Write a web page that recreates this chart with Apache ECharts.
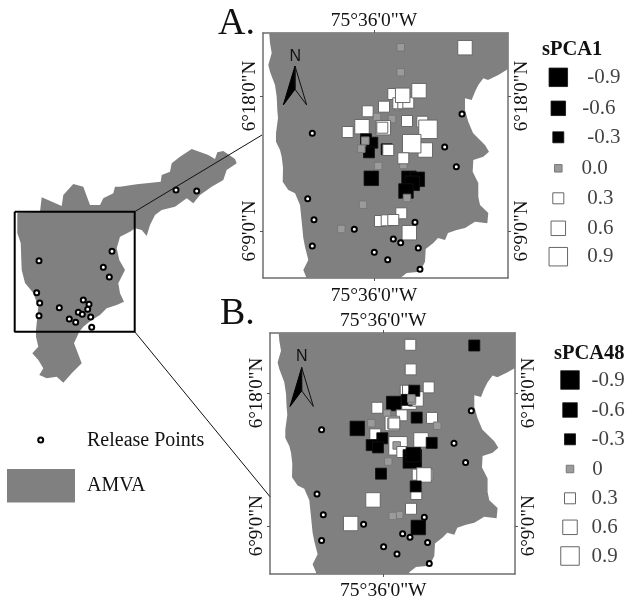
<!DOCTYPE html>
<html><head><meta charset="utf-8">
<style>html,body{margin:0;padding:0;background:#fff}#c{width:630px;height:601px}</style>
<script src="https://cdn.jsdelivr.net/npm/echarts@6/dist/echarts.min.js"></script>
</head><body><div id="c"></div>
<script>
// Map units of the panels (same basemap for A and B)
const basemap = [[268.5,20],[269.3,34],[270,43],[271.7,53],[268.3,65],[270,71.7],[275,85],[276.7,96.7],[277.3,110],[278,118],[276,133],[276,141.7],[280,150],[281.7,156.7],[283,168],[282.7,181.7],[288.3,190],[295,193.3],[300,205],[301.7,221.7],[303.3,238],[305,246.7],[308.3,260],[303.3,270],[306.7,278.3],[307,290],[396,290],[400,278.3],[406.7,273],[420,271.7],[425,261.7],[425.7,249],[433.3,243],[438,238],[445,240],[448,233],[456.7,230],[465,228],[475,221.7],[487.3,223.3],[488.3,213],[480,205],[478.3,196.7],[478.3,183],[472.7,171.7],[473.3,160],[483.3,156.7],[489,151.7],[485,145],[473,133],[468.3,121.7],[465,110],[465,98.3],[471.7,100],[475,91.7],[478.3,85],[483.3,78.3],[488,80],[498.3,75],[507.7,69.3],[520,64],[520,20]];
const releasePanel = [[312.3,133.3],[462,114],[444.7,147],[456.3,166.7],[307.7,198.7],[314,219.7],[312.3,246],[354.3,229.3],[393.3,239],[400.7,242.7],[415,222.3],[418.3,248],[374.3,252.3],[387.7,259.7],[420,269.3]];
// site x, site y, score
const sitesA = [[400.7,47.3,0],[400.7,72.3,0],[465,47.7,.6],[398.3,106.7,0],[393.3,94,.3],[398.3,103.3,.3],[403.3,103.3,.3],[408.3,102.7,.3],[419,90.7,.6],[402.7,95.3,.6],[384,106.7,.3],[367.7,111.3,.3],[377,117,0],[392,119,0],[407,121,.3],[362,126.7,.6],[383.3,127.7,.6],[382.3,127.7,.3],[347.7,132,.3],[422.3,121.7,.3],[428,129.3,.9],[425.3,150,.6],[411.7,143.7,.9],[366,139.3,-.3],[372.3,142.7,-.3],[369,152.3,-.3],[365.3,140.7,0],[361.3,148.7,0],[386.7,149.3,-.3],[388.3,150,.3],[403.3,165,0],[403.3,158.3,.3],[378.3,166,0],[371.3,178.3,-.6],[409,178.3,-.6],[417.3,179.3,-.6],[412.3,183.3,-.6],[406,191,-.6],[407,198,0],[363,204.7,0],[401.3,213.3,.3],[380,221,.3],[386.7,220.3,.3],[393.3,220,.3],[341.3,229,0],[409.3,232.7,.6]];
const sitesB = [[401,47,.3],[465,47.7,-.3],[401.4,72,.3],[419.4,90.3,.3],[396.4,93.7,.3],[398.7,93.7,.3],[399.7,105.3,.6],[406.7,102,.6],[405,93.7,-.3],[397.4,103,-.3],[402.7,103.7,0],[402,101.5,0],[384.4,106.7,-.6],[368,111,.3],[377.7,117,0],[392.4,118.7,.3],[407.4,121,-.3],[422.7,121.3,.3],[428,129.3,0],[362,126.7,0],[348,132,-.6],[383,127,.6],[384,127,.3],[385,127,.3],[373,142,.3],[366,138,.3],[373,142,-.3],[362.4,149,-.3],[368.7,151.3,-.3],[388.7,149.7,.9],[387.4,149.3,0],[411.7,143.7,.6],[422.4,146.7,-.3],[379,165.7,0],[393,156,.3],[403,163,-.9],[404,158.7,-.6],[371.7,178,-.3],[408.4,179,.3],[418,179,.3],[414.7,179.3,.6],[407,198.7,.3],[406.4,191,-.3],[363.7,204.7,.6],[401.7,213.7,.3],[390,220,0],[383.4,221,0],[341.4,228.7,.6],[409,232.7,-.6]];
const lonTicks = [374];
const lonLabels = ['75°36\'0"W'];
const latTicks = [96,231];
const latLabels = ['6°18\'0"N','6°9\'0"N'];
// Page-wide overview units
const overviewMap = [[41.7,197.3],[40,211.7],[20,212.7],[17.3,213.3],[17.3,233],[20.7,243],[21.7,270],[25,283],[33.3,293],[38.3,306.7],[36,330],[36,336.7],[38.3,346.7],[32.3,353.3],[38.3,360],[43.3,368.3],[39.3,375],[46.7,378.3],[56.7,376.7],[63.3,382.7],[71.7,373.3],[81.7,363.3],[77.3,351.7],[74,343.3],[79.3,331.7],[83.3,326.7],[91.7,320],[100,315],[106.7,308.3],[116.7,305],[124,301.7],[120,293.3],[118.3,283.3],[125,270],[119.3,260],[116.7,248.3],[120,236.7],[130,231.7],[135,228.3],[141.7,230],[146.7,236],[150,225],[155,215],[161.7,210],[175,206.7],[186.7,198.3],[193.3,203.3],[200,195],[211.7,186.7],[223.3,180],[226.7,170],[236.7,163.3],[235,159],[223.3,151],[217.3,152.3],[215,159],[208.3,155],[191.7,149],[180,156.7],[171.7,163.3],[170,171.7],[161.7,175],[160.7,181.7],[136.7,184.3],[120,186.7],[115,186.7],[113.3,193.3],[103.3,198.3],[100,205],[90,205],[83.3,186.7],[73.3,184],[63.3,195],[61.7,206]];
const overviewRelease = [[39,260.7],[112,251.3],[103.3,267.3],[109.3,277],[36.7,292.7],[39.7,303],[39,315.7],[59.3,307.7],[83.3,300],[89,304.3],[87.7,309.3],[78.3,312.3],[82.3,314.3],[90.7,317],[69.3,319],[75.7,322.3],[91.7,327.3],[176,190],[196.7,191]];
const insetFrame = [[14.7,211.7],[134.7,211.7],[134.7,331.7],[14.7,331.7],[14.7,211.7]];
const connectorTop = [[134.7,211.7],[262,135]];
const connectorBottom = [[134.7,331.7],[270,496.7]];
const legendKeyPoint = [[40.7,440]];
const legendValues = [-.9,-.6,-.3,0,.3,.6,.9];
const legendALabels = ['-0.9','-0.6','-0.3','0.0','0.3','0.6','0.9'];
const legendBLabels = ['-0.9','-0.6','-0.3','0','0.3','0.6','0.9'];
const legendAY = [77.3,108.3,137.3,168.3,198.3,228.3,256.7];
const legendBY = [380,410,439.3,469,498.3,527.3,556];
const legendALabelX = [586.7,581.7,586.7,581,586.7,586.7,586.7];
const legendBLabelX = [591,591,591,591.7,591,591,591];
const legendAX = 558.3, legendBX = 570;
const arrowLeftHalf = [[295,66],[283.3,105],[295,89.3]];
const arrowRightHalf = [[295,66],[306.7,105],[295,89.3]];
const arrowOffsetB = [6.7,301.5];

const SERIF = '"Liberation Serif","Times New Roman",serif';
const GRAY = '#808080';
function sizeOf(v){const a=Math.abs(v);return a<.1?7.5:a<.45?11:a<.75?14.5:18.5;}
function styleOf(v){
  if(v<0) return {color:'#000',borderColor:'#111',borderWidth:.8,opacity:1};
  if(v===0) return {color:'#9b9b9b',borderColor:'#777',borderWidth:1,opacity:1};
  return {color:'#fff',borderColor:'#666',borderWidth:1,opacity:1};
}
const squareItem = p => ({value:[p[0],p[1]],symbolSize:sizeOf(p[2]),itemStyle:styleOf(p[2])});
function polygonSeries(pts,xi,yi,fill,stroke,clip){
  return {type:'custom',xAxisIndex:xi,yAxisIndex:yi,clip:clip,silent:true,data:[pts[0]],encode:{x:0,y:1},
    renderItem:(params,api)=>({type:'polygon',shape:{points:pts.map(p=>api.coord(p))},
      style:{fill:fill,stroke:stroke||null,lineWidth:stroke?1:0}})};
}
function panelAxes(grid,xMin,yMin,bottomMargin){
  const line={show:true,lineStyle:{color:'#6e6e6e',width:1.5}};
  const tick={show:true,length:3,lineStyle:{color:'#555',width:1}};
  const margins={top:2,bottom:bottomMargin,left:3,right:5};
  const mk=(pos,ticks,labels,isY)=>({type:'value',gridIndex:grid,position:pos,
    min:isY?yMin:xMin,max:(isY?yMin:xMin)+245,inverse:isY,splitLine:{show:false},
    axisLine:Object.assign({onZero:false},line),
    axisTick:Object.assign({customValues:ticks},tick),
    axisLabel:{customValues:ticks,rotate:isY?90:0,margin:margins[pos],
      fontFamily:SERIF,fontSize:isY?19:19.5,color:'#111',
      formatter:v=>labels[ticks.indexOf(v)]}});
  return {x:[mk('top',lonTicks,lonLabels,false),mk('bottom',lonTicks,lonLabels,false)],
          y:[mk('left',latTicks,latLabels,true),mk('right',latTicks,latLabels,true)]};
}
const ax1=panelAxes(1,263,33,8), ax2=panelAxes(2,260.7,35,7);
const xAxes=[{type:'value',gridIndex:0,min:0,max:630,show:false},...ax1.x,...ax2.x];
const yAxes=[{type:'value',gridIndex:0,min:0,max:601,inverse:true,show:false},...ax1.y,...ax2.y];

function lineS(d,w,c){return {type:'line',xAxisIndex:0,yAxisIndex:0,data:d,symbol:'none',silent:true,lineStyle:{color:c||'#111',width:w}};}
function ringS(d,xi,yi){return {type:'scatter',xAxisIndex:xi,yAxisIndex:yi,data:d,symbol:'circle',symbolSize:5,silent:true,
  itemStyle:{color:'#fff',borderColor:'#000',borderWidth:2,opacity:1}};}
function swatchS(ys,x){return {type:'scatter',xAxisIndex:0,yAxisIndex:0,symbol:'rect',silent:true,
  data:legendValues.map((v,i)=>squareItem([x,ys[i],v]))};}
function labelS(xs,ys,labels){return {type:'scatter',xAxisIndex:0,yAxisIndex:0,symbolSize:1,silent:true,itemStyle:{color:'transparent'},
  data:labels.map((t,i)=>({value:[xs[i],ys[i]],name:t})),
  label:{show:true,position:'right',distance:0,formatter:p=>p.name,fontFamily:SERIF,fontSize:21,color:'#111'}};}
const shift=p=>[p[0]+arrowOffsetB[0],p[1]+arrowOffsetB[1]];

const series=[
  polygonSeries(overviewMap,0,0,GRAY),
  lineS(connectorTop,1),lineS(connectorBottom,1),lineS(insetFrame,2,'#000'),
  ringS(overviewRelease,0,0),
  polygonSeries(basemap,1,1,GRAY,null,true),
  {type:'scatter',xAxisIndex:1,yAxisIndex:1,symbol:'rect',silent:true,data:sitesA.map(squareItem)},
  ringS(releasePanel,1,1),
  polygonSeries(basemap,3,3,GRAY,null,true),
  {type:'scatter',xAxisIndex:3,yAxisIndex:3,symbol:'rect',silent:true,data:sitesB.map(squareItem)},
  ringS(releasePanel,3,3),
  polygonSeries(arrowLeftHalf,0,0,'#000','#000'),
  polygonSeries(arrowRightHalf,0,0,'transparent','#111'),
  polygonSeries(arrowLeftHalf.map(shift),0,0,'#000','#000'),
  polygonSeries(arrowRightHalf.map(shift),0,0,'transparent','#111'),
  swatchS(legendAY,legendAX),labelS(legendALabelX,legendAY,legendALabels),
  swatchS(legendBY,legendBX),labelS(legendBLabelX,legendBY,legendBLabels),
  ringS(legendKeyPoint,0,0)
];
const txt=(x,y,t,size,family,weight)=>({type:'text',x:x,y:y,z:100,silent:true,
  style:{text:t,fontSize:size,fontFamily:family||SERIF,fontWeight:weight||'normal',fill:'#111',textVerticalAlign:'middle',textAlign:'left'}});
const chart=echarts.init(document.getElementById('c'),null,{renderer:'canvas'});
chart.setOption({animation:false,backgroundColor:'#fff',
  grid:[{left:0,top:0,width:630,height:601},
        {left:263,top:33,width:245,height:245},
        {left:270,top:333,width:245,height:245}],
  xAxis:xAxes,yAxis:yAxes,series:series,
  graphic:{elements:[
    txt(218,24,'A.',38),txt(220,314,'B.',38),
    txt(542,50,'sPCA1',20.5,SERIF,'bold'),txt(554,353.5,'sPCA48',20.5,SERIF,'bold'),
    txt(87,441,'Release Points',20),txt(87,486,'AMVA',20),
    txt(289.5,56.5,'N',16,'"Liberation Sans",Arial,sans-serif'),
    txt(296,357,'N',16,'"Liberation Sans",Arial,sans-serif'),
    {type:'rect',z:1,silent:true,shape:{x:7,y:469,width:68,height:33.5},style:{fill:GRAY}}
  ]}
});
</script></body></html>
